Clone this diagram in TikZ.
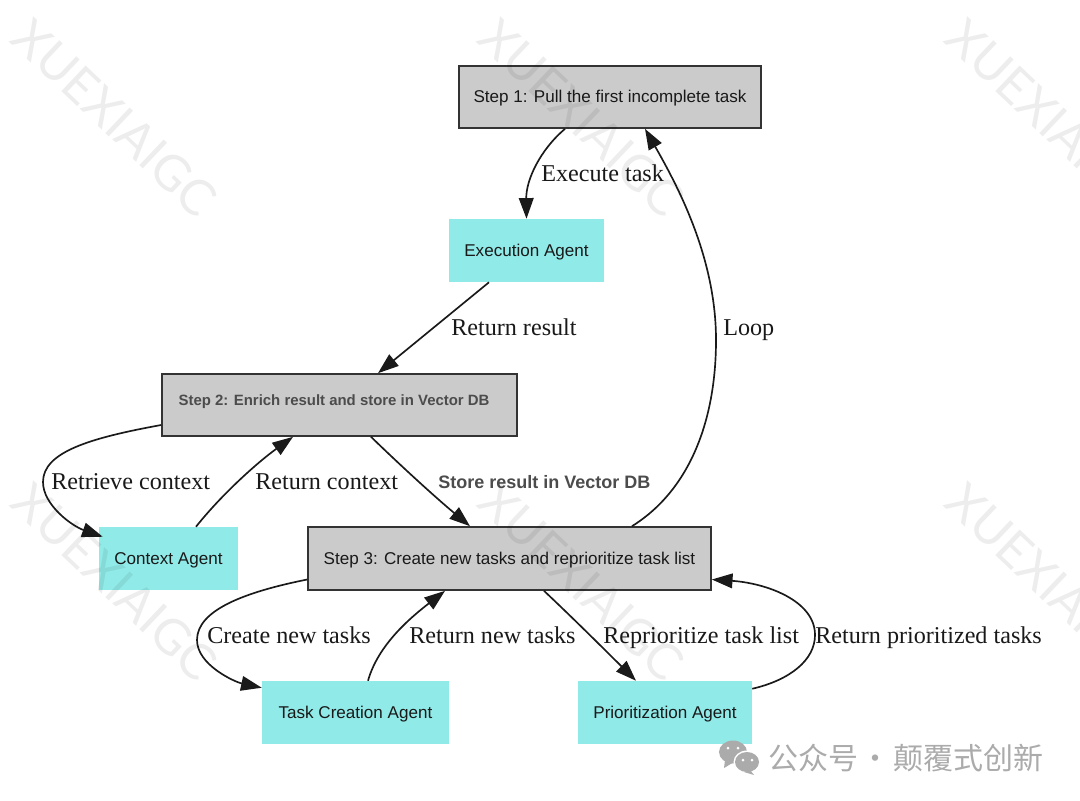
\documentclass[tikz,border=0pt]{standalone}
\usepackage{fontspec}
\setmainfont{Liberation Serif}
\setsansfont{Liberation Sans}
\newfontfamily\cjkfont{Noto Sans CJK SC}
\newfontfamily\wmfont{Lato}
\usetikzlibrary{arrows.meta,calc}
\definecolor{boxgray}{HTML}{CBCBCB}
\definecolor{agentcyan}{HTML}{90EAE8}
\definecolor{edgeblack}{HTML}{1A1A1A}
\definecolor{wechatgray}{HTML}{ABABAB}
\tikzset{
  stepbox/.style={draw=black!80,line width=1.25pt,fill=boxgray,inner sep=0pt,font=\sffamily\fontsize{12.8pt}{14pt}\selectfont,text=black!90},
  agentbox/.style={fill=agentcyan,inner sep=0pt,font=\sffamily\fontsize{12.8pt}{14pt}\selectfont,text=black!90,text height=9.7pt,text depth=0pt},
  lbl/.style={inner sep=0pt,anchor=base west,font=\rmfamily\fontsize{18.1pt}{20pt}\selectfont,text=black!90},
  edge/.style={draw=edgeblack,line width=1.25pt,-{Triangle[length=15.5pt,width=11pt]}},
  wm/.style={rotate=-43.5,font=\wmfont\fontsize{37pt}{40pt}\selectfont,text=black,opacity=0.07,inner sep=0pt},
}
\begin{document}
\begin{tikzpicture}[x=0.75pt,y=-0.75pt]
\useasboundingbox[fill=white] (0,0) rectangle (1080,800);
\clip (0,0) rectangle (1080,800);
\node[stepbox,minimum width=226.5pt,minimum height=46.5pt,text height=8.2pt,text depth=0pt] (s1) at (610,97) {Step 1: Pull the first incomplete task};
\node[agentbox,minimum width=116.25pt,minimum height=47.25pt] (ex) at (526.5,250.5) {Execution Agent};
\node[stepbox,minimum width=266.25pt,minimum height=46.5pt,text=black!70,font=\sffamily\bfseries\fontsize{11.2pt}{14pt}\selectfont] (s2) at (339.5,405) {\hspace*{-8.2pt}\raisebox{8pt}{Step 2: Enrich result and store in Vector DB}};
\node[agentbox,minimum width=104.25pt,minimum height=47.25pt] (ctx) at (168.5,558.5) {Context Agent};
\node[stepbox,minimum width=302.25pt,minimum height=47.25pt,text height=9.7pt,text depth=0pt] (s3) at (509.5,558.5) {Step 3: Create new tasks and reprioritize task list};
\node[agentbox,minimum width=140.25pt,minimum height=47.25pt] (tc) at (355.5,712.5) {Task Creation Agent};
\node[agentbox,minimum width=130.5pt,minimum height=47.25pt] (pr) at (665,712.5) {Prioritization Agent};

\path[edge] ($(s1.south)+(-45,0)$) .. controls (540,150) and (526,180) .. (ex.north);
\path[edge] ($(ex.south)+(-37.5,0)$) -- ($(s2.north)+(38.5,0)$);
\path[edge] ($(s2.west)+(0,20)$) .. controls (90,438) and (43,452) .. (43,482) .. controls (43,505) and (72,526) .. ($(ctx.north west)+(4,10)$);
\path[edge] ($(ctx.north)+(27.5,0)$) .. controls (222,494) and (258,462) .. ($(s2.south)+(-46.5,0)$);
\path[edge] ($(s2.south)+(31.5,0)$) .. controls (400,465) and (435,497) .. ($(s3.north)+(-39.5,0)$);
\path[edge] ($(s3.north)+(122.5,0)$) .. controls (690,490) and (716,420) .. (716,340) .. controls (716,260) and (680,190) .. ($(s1.south)+(35,0)$);
\path[edge] ($(s3.west)+(0,21)$) .. controls (245,592) and (197,610) .. (197,640) .. controls (197,665) and (235,682) .. ($(tc.north west)+(0,7)$);
\path[edge] ($(tc.north)+(12.5,0)$) .. controls (378,645) and (410,618) .. ($(s3.south)+(-64.5,0)$);
\path[edge] ($(s3.south)+(34.5,0)$) .. controls (575,620) and (610,655) .. ($(pr.north)+(-29,0)$);
\path[edge] ($(pr.north east)+(0,8)$) .. controls (790,680) and (815,660) .. (815,635) .. controls (815,600) and (765,583) .. ($(s3.east)+(0,21)$);

\node[lbl] (l1) at (541,181) {Execute task};
\node[lbl] (l2) at (451,335) {Return result};
\node[lbl] (l3) at (723,335) {Loop};
\node[lbl] (l4) at (51,489) {Retrieve context};
\node[lbl] (l5) at (255,489) {Return context};
\node[lbl,font=\sffamily\bfseries\fontsize{13.5pt}{14pt}\selectfont,text=black!70] (l6) at (438,488) {Store result in Vector DB};
\node[lbl] (l7) at (207,643) {Create new tasks};
\node[lbl] (l8) at (409,643) {Return new tasks};
\node[lbl] (l9) at (603,643) {Reprioritize task list};
\node[lbl] (l10) at (815,643) {Return prioritized tasks};

\foreach \i/\wx/\wy in {a/115/118,b/582/118,c/1049/118,d/115/582,e/582/582,f/1049/582}
  \node[wm] (w\i) at (\wx,\wy) {XUEXIAIGC};

% WeChat mark
\fill[wechatgray] (733,752) ellipse (14 and 11.5);
\fill[wechatgray] (725,760) -- (724,768) -- (734,762) -- cycle;
\fill[white] (747,762) ellipse (13.5 and 11.5);
\fill[wechatgray] (747,762) ellipse (12 and 10);
\fill[wechatgray] (750,770) -- (754,775) -- (744,772) -- cycle;
\fill[white] (728,748) circle (1.5) (738,748) circle (1.5) (743,760) circle (1.5) (752,760) circle (1.5);
\node[inner sep=0pt,anchor=base west,font=\cjkfont\fontsize{22.5pt}{24pt}\selectfont,text=wechatgray] (wx) at (768,769) {公众号\hspace{-3pt} · \hspace{-3pt}颠覆式创新};
\end{tikzpicture}
\end{document}
